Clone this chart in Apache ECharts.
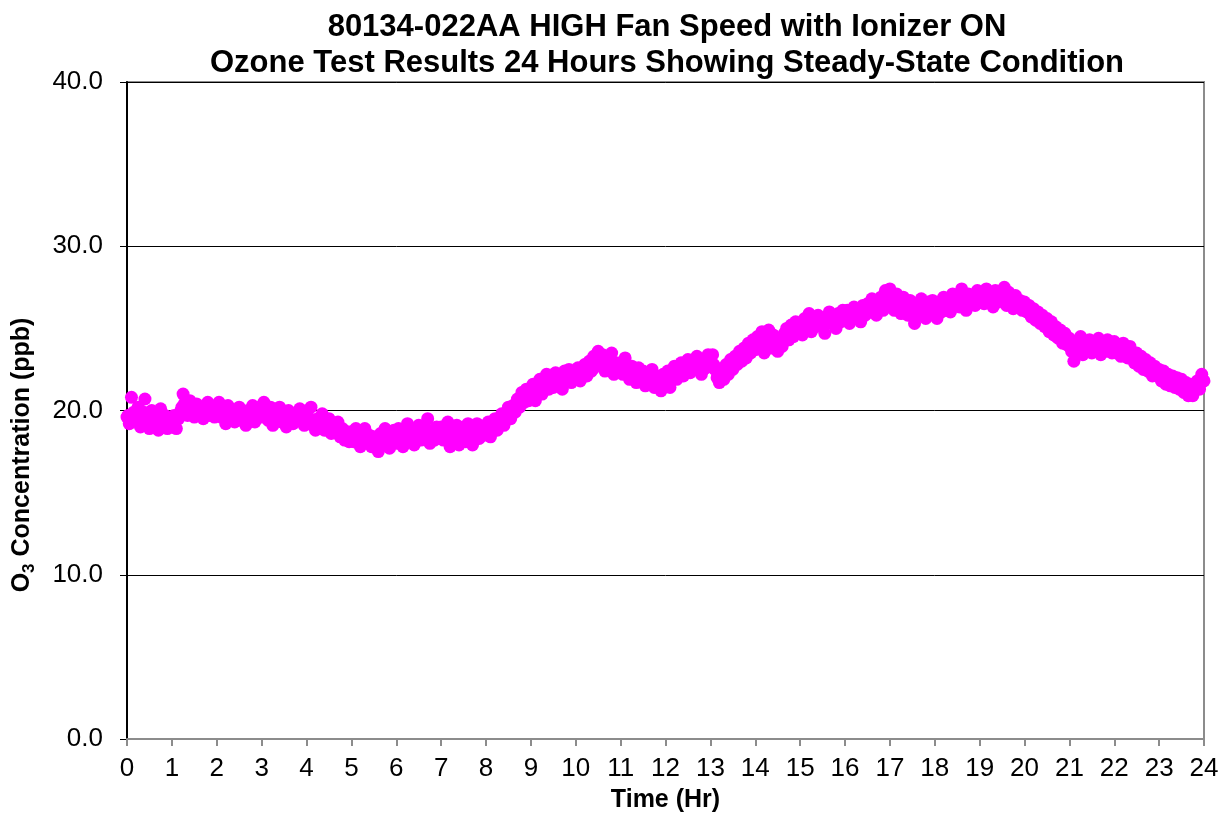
<!DOCTYPE html>
<html>
<head>
<meta charset="utf-8">
<script src="https://cdn.jsdelivr.net/npm/echarts@6/dist/echarts.min.js"></script>
<style>
  html, body { margin: 0; padding: 0; background: #fff; }
  #chart { width: 1232px; height: 820px; }
</style>
</head>
<body>
<div id="chart"></div>
<script>
// sampling step of the ozone monitor, hours
const sampleStepHr = 0.05

// O3 readings (ppb) on the whole sample times, one row per hour
const o3PpbA = [
  19.6, 19.2, 20.8, 19.9, 19.4, 20.2, 19.0, 19.7, 20.7, 19.5, 18.9, 20.0, 19.3, 19.6, 18.8, 20.1, 19.4, 19.7, 18.9, 19.5,
  19.2, 19.7, 18.9, 19.5, 20.0, 21.0, 20.3, 19.7, 20.6, 20.1, 19.6, 20.4, 19.8, 20.2, 19.5, 20.0, 20.5, 19.7, 20.1, 19.6,
  20.1, 20.5, 19.6, 19.9, 19.2, 20.3, 19.7, 20.0, 19.3, 19.8, 20.2, 19.4, 19.9, 19.1, 20.0, 19.6, 20.3, 19.3, 19.7, 20.2,
  19.6, 20.5, 19.9, 19.4, 20.2, 19.1, 19.8, 19.5, 20.2, 19.3, 19.7, 19.0, 20.0, 19.5, 19.2, 19.8, 19.4, 20.1, 19.6, 19.1,
  19.7, 19.2, 20.2, 19.4, 18.8, 19.5, 19.1, 19.8, 18.8, 19.3, 19.5, 18.6, 19.1, 18.8, 19.3, 18.4, 18.9, 18.2, 18.7, 18.1,
  18.7, 18.1, 18.9, 18.4, 17.8, 18.6, 18.9, 18.2, 18.5, 17.8, 18.4, 18.0, 17.5, 18.6, 18.1, 18.9, 18.3, 17.7, 18.5, 18.8,
  18.0, 18.9, 18.4, 17.8, 18.6, 19.2, 18.2, 18.7, 17.9, 18.5, 19.1, 18.2, 18.9, 18.4, 19.5, 18.0, 18.6, 18.2, 19.0, 18.5,
  19.0, 18.2, 18.6, 19.3, 17.8, 18.8, 18.3, 19.1, 17.9, 18.6, 19.0, 18.1, 19.2, 18.5, 17.9, 18.7, 19.2, 18.3, 18.9, 18.5,
  18.6, 19.3, 18.4, 19.0, 19.5, 18.8, 19.4, 19.8, 19.1, 19.6, 20.2, 19.5, 20.3, 19.9, 20.7, 20.2, 21.1, 20.5, 21.3, 20.6,
  21.2, 21.6, 20.6, 21.4, 21.9, 21.0, 21.6, 22.2, 21.3, 21.8, 21.4, 22.3, 21.7, 22.1, 21.3, 22.4, 21.9, 22.5, 21.7, 22.2,
  21.9, 22.6, 21.8, 22.3, 22.8, 22.1, 23.0, 22.4, 23.3, 22.7, 23.6, 22.9, 23.4, 22.4, 23.1, 22.7, 23.5, 22.2, 22.9, 22.6,
  22.9, 22.2, 23.2, 22.5, 21.9, 22.7, 22.1, 21.7, 22.6, 21.9, 22.4, 21.5, 22.2, 21.7, 22.5, 21.4, 22.1, 21.8, 21.2, 22.2,
  21.7, 22.4, 21.4, 22.2, 22.7, 21.9, 22.5, 22.9, 22.1, 22.7, 23.1, 22.3, 22.9, 22.5, 23.3, 22.6, 22.2, 23.1, 22.6, 23.4,
  22.7, 23.4, 22.5, 22.0, 21.7, 22.5, 21.9, 22.8, 22.2, 23.1, 22.5, 23.3, 22.8, 23.6, 23.0, 23.8, 23.2, 24.1, 23.5, 24.3,
  23.7, 24.5, 23.9, 24.8, 23.5, 24.3, 24.9, 23.8, 24.6, 24.1, 23.6, 24.4, 23.9, 24.7, 25.0, 24.3, 25.2, 24.5, 25.4, 24.8,
  25.3, 24.6, 25.6, 25.0, 25.9, 24.8, 25.5, 25.1, 25.8, 25.2, 25.6, 24.7, 25.4, 26.0, 25.3, 25.7, 25.0, 25.9, 25.4, 26.1,
  25.5, 26.1, 25.3, 25.9, 26.3, 25.6, 26.2, 25.4, 26.4, 25.8, 26.5, 26.0, 26.8, 26.2, 25.8, 26.6, 26.9, 26.1, 27.3, 26.4,
  27.4, 26.6, 26.1, 27.1, 26.4, 25.9, 26.9, 26.2, 25.8, 26.7, 26.0, 25.3, 26.5, 25.8, 26.8, 26.2, 25.6, 26.6, 25.9, 26.7,
  26.3, 25.6, 26.6, 26.0, 26.9, 26.2, 26.8, 26.0, 27.1, 26.5, 27.0, 26.3, 27.4, 26.6, 26.1, 27.1, 26.5, 27.0, 26.4, 27.3,
  26.7, 27.2, 26.5, 27.4, 26.6, 27.0, 26.3, 27.3, 26.6, 27.1, 26.8, 27.5, 26.4, 27.2, 26.7, 26.2, 27.0, 26.4, 26.7, 26.1,
  26.6, 26.0, 26.4, 25.7, 26.2, 25.5, 26.0, 25.3, 25.8, 25.1, 25.6, 24.8, 25.4, 24.6, 25.1, 24.4, 24.9, 24.1, 24.7, 24.0,
  24.4, 23.6, 23.0, 24.2, 23.7, 24.5, 23.4, 24.1, 23.6, 24.3, 23.5, 24.2, 23.8, 24.4, 23.4, 24.1, 23.6, 24.3, 23.8, 23.5,
  24.2, 23.5, 24.0, 23.3, 24.1, 23.6, 23.2, 23.9, 23.4, 22.9, 23.5, 22.7, 23.3, 22.5, 23.1, 22.4, 22.9, 22.1, 22.7, 22.2,
  22.5, 21.8, 22.4, 21.6, 22.2, 21.5, 22.1, 21.4, 22.0, 21.3, 21.9, 21.1, 21.7, 20.9, 21.6, 20.9, 21.4, 21.8, 21.3, 22.2,
  21.8
]

// O3 readings (ppb) on the half sample times, one row per hour
const o3PpbB = [
  19.7, 19.5, 19.8, 19.6, 19.4, 19.7, 19.5, 19.9, 19.6, 19.3, 19.6, 19.5, 19.7, 19.4, 19.6, 19.3, 19.5, 19.6, 19.4, 19.5,
  19.4, 19.3, 19.5, 19.8, 20.2, 20.4, 20.1, 20.3, 20.0, 20.2, 19.9, 20.1, 20.0, 19.8, 20.0, 19.9, 20.1, 19.9, 19.8, 20.0,
  19.9, 19.8, 20.0, 19.7, 19.8, 19.9, 19.6, 19.8, 19.7, 19.9, 19.6, 19.7, 19.5, 19.8, 19.7, 19.6, 19.8, 19.6, 19.9, 19.7,
  19.8, 19.9, 19.7, 19.8, 19.6, 19.8, 19.7, 19.9, 19.6, 19.7, 19.5, 19.7, 19.6, 19.5, 19.7, 19.5, 19.6, 19.4, 19.5, 19.4,
  19.3, 19.5, 19.4, 19.2, 19.4, 19.3, 19.2, 19.1, 19.3, 19.0, 19.1, 18.9, 18.9, 19.0, 18.8, 18.7, 18.8, 18.6, 18.5, 18.5,
  18.4, 18.5, 18.3, 18.4, 18.2, 18.4, 18.3, 18.5, 18.2, 18.3, 18.1, 18.3, 18.2, 18.4, 18.3, 18.4, 18.2, 18.5, 18.4, 18.6,
  18.5, 18.4, 18.6, 18.5, 18.3, 18.6, 18.5, 18.7, 18.4, 18.6, 18.5, 18.7, 18.5, 18.6, 18.8, 18.5, 18.6, 18.4, 18.7, 18.6,
  18.6, 18.5, 18.7, 18.6, 18.4, 18.6, 18.5, 18.7, 18.5, 18.6, 18.8, 18.6, 18.7, 18.5, 18.6, 18.8, 18.7, 18.6, 18.8, 18.7,
  18.9, 18.8, 19.0, 19.1, 19.2, 19.1, 19.3, 19.4, 19.5, 19.6, 19.8, 19.9, 20.0, 20.2, 20.3, 20.5, 20.6, 20.8, 20.9, 21.0,
  21.0, 21.2, 21.1, 21.3, 21.5, 21.4, 21.6, 21.7, 21.6, 21.7, 21.8, 21.9, 21.8, 22.0, 21.9, 22.0, 22.1, 22.0, 22.2, 22.1,
  22.1, 22.2, 22.2, 22.4, 22.3, 22.5, 22.6, 22.5, 22.7, 22.8, 22.9, 22.8, 22.9, 22.8, 22.7, 22.8, 22.7, 22.6, 22.7, 22.6,
  22.6, 22.5, 22.6, 22.4, 22.3, 22.4, 22.2, 22.1, 22.2, 22.0, 22.1, 22.0, 21.9, 22.0, 21.9, 21.8, 21.9, 22.0, 21.9, 22.0,
  22.0, 22.1, 22.0, 22.2, 22.3, 22.2, 22.4, 22.5, 22.4, 22.6, 22.7, 22.6, 22.8, 22.7, 22.9, 22.8, 22.7, 22.9, 22.8, 23.0,
  22.9, 22.8, 22.6, 22.4, 22.3, 22.2, 22.4, 22.5, 22.6, 22.7, 22.8, 22.9, 23.0, 23.2, 23.3, 23.4, 23.5, 23.7, 23.8, 23.9,
  23.9, 24.0, 24.1, 24.2, 24.0, 24.1, 24.2, 24.0, 24.1, 24.2, 24.1, 24.3, 24.4, 24.5, 24.6, 24.7, 24.8, 24.9, 25.0, 25.0,
  25.0, 25.1, 25.2, 25.1, 25.3, 25.2, 25.3, 25.2, 25.4, 25.3, 25.4, 25.3, 25.4, 25.5, 25.6, 25.5, 25.6, 25.7, 25.6, 25.7,
  25.7, 25.8, 25.7, 25.9, 26.0, 25.9, 26.1, 26.0, 26.2, 26.1, 26.3, 26.2, 26.4, 26.3, 26.4, 26.5, 26.6, 26.5, 26.7, 26.6,
  26.6, 26.7, 26.5, 26.6, 26.4, 26.5, 26.3, 26.4, 26.2, 26.3, 26.2, 26.1, 26.3, 26.2, 26.3, 26.2, 26.1, 26.3, 26.2, 26.3,
  26.3, 26.2, 26.4, 26.3, 26.5, 26.4, 26.5, 26.4, 26.6, 26.5, 26.7, 26.6, 26.8, 26.7, 26.6, 26.8, 26.7, 26.9, 26.8, 26.9,
  26.9, 27.0, 26.9, 27.0, 26.8, 26.9, 26.8, 27.0, 26.9, 27.0, 26.9, 27.1, 26.8, 26.9, 26.7, 26.6, 26.7, 26.5, 26.4, 26.3,
  26.3, 26.2, 26.1, 25.9, 25.8, 25.7, 25.6, 25.5, 25.3, 25.2, 25.1, 24.9, 24.8, 24.7, 24.5, 24.4, 24.3, 24.2, 24.1, 24.0,
  24.0, 23.9, 23.6, 23.9, 24.0, 24.1, 23.8, 23.9, 23.8, 24.0, 23.9, 23.8, 24.0, 23.9, 23.8, 23.9, 23.8, 24.0, 23.8, 23.7,
  23.8, 23.7, 23.8, 23.6, 23.7, 23.5, 23.4, 23.5, 23.3, 23.2, 23.3, 23.1, 23.0, 22.9, 22.8, 22.7, 22.6, 22.5, 22.4, 22.3,
  22.2, 22.1, 22.1, 22.0, 21.9, 21.9, 21.8, 21.8, 21.7, 21.6, 21.6, 21.4, 21.3, 21.3, 21.2, 21.4, 21.5, 21.6, 21.7, 21.8
]

const titleLines = [
  '80134-022AA HIGH Fan Speed with Ionizer ON',
  'Ozone Test Results 24 Hours Showing Steady-State Condition'
]

const points = []
o3PpbA.forEach((v, i) => {
  points.push([+(i * sampleStepHr).toFixed(3), v])
  if (i < o3PpbB.length) points.push([+((i + 0.5) * sampleStepHr).toFixed(3), o3PpbB[i]])
})

const chart = echarts.init(document.getElementById('chart'))

const option = {
  backgroundColor: '#fff',
  animation: false,
  textStyle: { fontFamily: 'Liberation Sans, Arial, sans-serif' },
  title: {
    text: titleLines.join('\n'),
    left: 662,
    top: 4,
    textAlign: 'center',
    textStyle: {
      fontSize: 31,
      fontWeight: 'bold',
      color: '#000',
      lineHeight: 36,
      fontFamily: 'Liberation Sans, Arial, sans-serif'
    }
  },
  grid: {
    left: 127,
    right: 28,
    top: 82,
    bottom: 81,
    show: true,
    borderColor: '#8c8c8c',
    borderWidth: 2,
    backgroundColor: '#fff'
  },
  // y axis title with the subscript, placed like the original
  graphic: [
    {
      type: 'text',
      x: 22,
      y: 455,
      rotation: Math.PI / 2,
      style: {
        text: '{m|O}{s|3}{m| Concentration (ppb)}',
        align: 'center',
        verticalAlign: 'middle',
        rich: {
          m: { fontSize: 25, fontWeight: 'bold', fill: '#000', lineHeight: 32, fontFamily: 'Liberation Sans, Arial, sans-serif' },
          s: { fontSize: 17, fontWeight: 'bold', fill: '#000', lineHeight: 32, verticalAlign: 'bottom', padding: [11, 0, 0, 0], fontFamily: 'Liberation Sans, Arial, sans-serif' }
        }
      }
    }
  ],
  xAxis: {
    type: 'value',
    min: 0,
    max: 24,
    interval: 1,
    name: 'Time (Hr)',
    nameLocation: 'middle',
    nameGap: 49,
    nameTextStyle: { fontSize: 25, fontWeight: 'bold', color: '#000' },
    axisLine: { show: true, lineStyle: { color: '#8c8c8c', width: 2 } },
    axisTick: { show: true, length: 7, lineStyle: { color: '#8c8c8c', width: 2 } },
    axisLabel: { fontSize: 26, color: '#000', margin: 17 },
    splitLine: { show: false }
  },
  yAxis: {
    type: 'value',
    min: 0,
    max: 40,
    interval: 10,
    axisLine: { show: true, lineStyle: { color: '#000', width: 2 } },
    axisTick: { show: true, length: 7, lineStyle: { color: '#000', width: 1 } },
    axisLabel: {
      fontSize: 26,
      color: '#000',
      margin: 24,
      formatter: v => v.toFixed(1)
    },
    splitLine: { show: true, lineStyle: { color: '#000', width: 1 } }
  },
  series: [
    {
      name: 'O3',
      type: 'scatter',
      data: points,
      symbol: 'circle',
      symbolSize: 13,
      itemStyle: { color: '#ff00ff', opacity: 1 },
      silent: true
    }
  ]
}

chart.setOption(option)
</script>
</body>
</html>
